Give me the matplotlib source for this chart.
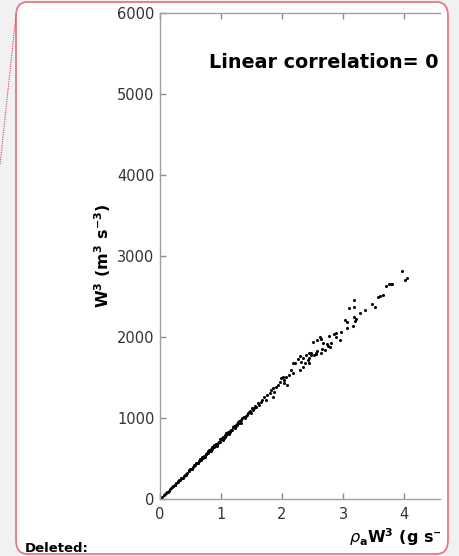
import matplotlib.pyplot as plt
from matplotlib.patches import FancyBboxPatch, Rectangle
from matplotlib.lines import Line2D

# rho_a * W^3 (g s^-3) vs W^3 (m^3 s^-3)
x_vals = [
    0.02, 0.04, 0.06, 0.08, 0.10, 0.12, 0.14, 0.16, 0.18, 0.20, 0.22, 0.24,
    0.27, 0.30, 0.33, 0.36, 0.39, 0.42, 0.45, 0.48, 0.51, 0.54, 0.57, 0.60,
    0.62, 0.64, 0.66, 0.68, 0.70, 0.72, 0.74, 0.76, 0.78, 0.80, 0.82, 0.84,
    0.86, 0.88, 0.90, 0.92, 0.94, 0.96, 0.98, 1.00, 1.02, 1.04, 1.06, 1.08,
    1.10, 1.12, 1.14, 1.16, 1.18, 1.20, 1.22, 1.24, 1.26, 1.28, 1.30, 1.32,
    0.55, 0.65, 0.75, 0.85, 0.95, 1.05, 1.15, 1.25, 1.35,
    0.25, 0.31, 0.37, 0.43, 0.49, 0.53, 0.59, 0.63, 0.69, 0.73, 0.79, 0.83,
    0.89, 0.93, 0.99, 1.03, 1.09, 1.13, 1.19, 1.23, 1.29, 1.33,
    0.13, 0.21, 0.29, 0.35, 0.41, 0.47, 0.56, 0.61, 0.67, 0.71, 0.77, 0.81,
    0.87, 0.91, 0.97, 1.01, 1.07, 1.11, 1.17, 1.21, 1.27, 1.31, 1.37, 1.41,
    1.44, 1.48, 1.51, 1.55,
    1.38, 1.40, 1.43, 1.46, 1.49, 1.52, 1.54, 1.57, 1.60, 1.62, 1.65, 1.68,
    1.71, 1.74, 1.76, 1.81, 1.82, 1.85, 1.86, 1.87, 1.90, 1.93, 1.96, 1.98,
    2.01, 2.04, 2.04, 2.07, 2.09, 2.12, 2.15, 2.18, 2.18, 2.21, 2.26, 2.29,
    2.30, 2.31, 2.34, 2.37, 2.42, 2.45, 2.48,
    2.34, 2.45, 2.40, 2.48, 2.45, 2.52, 2.56, 2.56, 2.58, 2.64, 2.66, 2.71,
    2.67, 2.73, 2.76, 2.81, 2.78, 2.51, 2.58, 2.62, 2.64, 2.77, 2.86, 2.89,
    2.88, 2.95, 2.96, 3.07, 3.17, 3.04, 3.06, 3.18, 3.22, 3.20, 3.28, 3.36,
    3.48, 3.52, 3.10, 3.18, 3.18, 3.57, 3.60, 3.65, 3.70, 3.75, 3.78, 3.81,
    3.96, 4.02, 4.05,
]
y_vals = [
    14, 29, 45, 58, 74, 88, 101, 118, 131, 147, 160, 176,
    196, 220, 240, 264, 284, 308, 327, 352, 371, 396, 414, 440,
    450, 470, 479, 500, 508, 530, 536, 560, 566, 590, 594, 618,
    622, 648, 650, 676, 680, 706, 708, 736, 738, 766, 770, 796,
    800, 826, 828, 858, 856, 890, 884, 918, 912, 950, 940, 978,
    420, 490, 555, 640, 690, 750, 845, 905, 1000,
    168, 236, 262, 296, 372, 372, 450, 444, 522, 516, 594, 590,
    668, 654, 746, 728, 812, 800, 884, 872, 962, 944,
    92, 156, 206, 258, 298, 346, 402, 448, 486, 524, 566, 600,
    636, 676, 700, 748, 784, 820, 856, 896, 930, 966, 1010, 1026,
    1064, 1090, 1122, 1150,
    1016, 996, 1037, 1078, 1058, 1099, 1120, 1140, 1181, 1161, 1202, 1223,
    1263, 1223, 1284, 1305, 1346, 1263, 1367, 1325, 1387, 1408, 1449, 1490,
    1511, 1470, 1429, 1511, 1408, 1531, 1593, 1552, 1684, 1676, 1725, 1593,
    1766, 1696, 1634, 1676, 1717, 1684, 1799,
    1738, 1738, 1778, 1778, 1799, 1778, 1807, 1787, 1832, 1799, 1849, 1840,
    1923, 1914, 1890, 1923, 1874, 1943, 1964, 1997, 1972, 2013, 2038, 2046,
    1997, 1964, 2067, 2108, 2137, 2211, 2190, 2244, 2219, 2202, 2293, 2334,
    2408, 2375, 2355, 2367, 2458, 2499, 2511, 2523, 2634, 2659, 2659, 2652,
    2820, 2705, 2725,
]

xticks = [0, 1, 2, 3, 4]
yticks = [0, 1000, 2000, 3000, 4000, 5000, 6000]

W, H = 459, 556
fig = plt.figure(figsize=(W / 100, H / 100), dpi=100)
fig.patch.set_facecolor("#f1f1f1")

# rounded red frame around the comment balloon
box = FancyBboxPatch((16 / W, 2 / H), 432 / W, 552 / H,
                     boxstyle="round,pad=0,rounding_size=0.025",
                     transform=fig.transFigure, facecolor="white",
                     edgecolor="#e57a82", linewidth=1.3, zorder=-5)
fig.patches.append(box)
fig.add_artist(Line2D([16 / W, 0], [1 - 15 / H, 1 - 165 / H],
                      transform=fig.transFigure, color="#d9434f",
                      linestyle=(0, (1, 1)), linewidth=0.8, zorder=-4))

ax = fig.add_axes([160 / W, 57 / H, 280 / W, 486 / H])
ax.patch.set_alpha(0)
ax.plot(x_vals, y_vals, "o", color="black", markersize=2.2, markeredgewidth=0)

ax.set_xlim(0, 280 / 61)
ax.set_ylim(0, 6000)
ax.set_xticks(xticks)
ax.set_yticks(yticks)
ax.spines["right"].set_visible(False)
for s in ["left", "top", "bottom"]:
    ax.spines[s].set_color("#a0a0a0")
    ax.spines[s].set_linewidth(1.0)
ax.tick_params(direction="in", length=4, width=1.0, color="#8c8c8c",
               labelsize=10.5, labelcolor="#333333", top=True, pad=4)
ax.tick_params(axis="x", pad=6)

# only this much of the annotation is visible in the cropped original
ax.text(0.80, 5317, "Linear correlation= 0", fontsize=13.8,
        fontweight="bold", ha="left", va="baseline")

ax.set_ylabel("W$^\\mathbf{3}$ (m$^\\mathbf{3}$ s$^\\mathbf{-3}$)",
              fontsize=11.5, fontweight="bold", labelpad=3)

xl = fig.text(349 / W, 1 - 543 / H,
              "$\\rho_\\mathbf{a}$W$^\\mathbf{3}$ (g s$^\\mathbf{-3}$)",
              fontsize=11.5, fontweight="bold", ha="left", va="baseline")
clip = Rectangle((0, 0), 440 / W, 1, transform=fig.transFigure)
xl.set_clip_path(clip)

fig.text(25 / W, 1 - 552 / H, "Deleted:", fontsize=9.5, fontweight="bold",
         ha="left", va="baseline")

fig.savefig("out.png", dpi=100, facecolor=fig.get_facecolor())
